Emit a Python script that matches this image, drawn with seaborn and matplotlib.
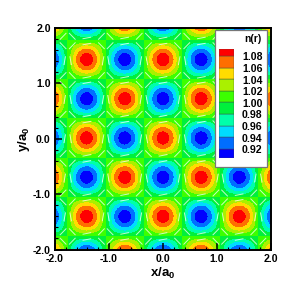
import numpy as np
import seaborn as sns
import matplotlib.pyplot as plt
from matplotlib.colors import ListedColormap, BoundaryNorm
from matplotlib.patches import Rectangle
from matplotlib.ticker import MultipleLocator

row_a = [0.89, 0.915, 1.0, 1.085, 1.11, 1.085, 1.0, 0.915, 0.89, 0.915, 1.0, 1.085, 1.11,
         1.085, 1.0, 0.915, 0.89, 0.915, 1.0, 1.085, 1.11, 1.085, 1.0, 0.915, 0.89]
row_a_near = [0.915, 0.95, 1.0, 1.05, 1.085, 1.05, 1.0, 0.95, 0.915, 0.95, 1.0, 1.05, 1.085,
              1.05, 1.0, 0.95, 0.915, 0.95, 1.0, 1.05, 1.085, 1.05, 1.0, 0.95, 0.915]
row_node = [1.0] * 25
row_b = [1.11, 1.085, 1.0, 0.915, 0.89, 0.915, 1.0, 1.085, 1.11, 1.085, 1.0, 0.915, 0.89,
         0.915, 1.0, 1.085, 1.11, 1.085, 1.0, 0.915, 0.89, 0.915, 1.0, 1.085, 1.11]
row_b_near = [1.085, 1.05, 1.0, 0.95, 0.915, 0.95, 1.0, 1.05, 1.085, 1.05, 1.0, 0.95, 0.915,
              0.95, 1.0, 1.05, 1.085, 1.05, 1.0, 0.95, 0.915, 0.95, 1.0, 1.05, 1.085]
density_rows = [row_b, row_b_near, row_node, row_a_near,
                row_a, row_a_near, row_node, row_b_near,
                row_b, row_b_near, row_node, row_a_near,
                row_a, row_a_near, row_node, row_b_near,
                row_b, row_b_near, row_node, row_a_near,
                row_a, row_a_near, row_node, row_b_near,
                row_b]
grid_edge = 2.121

levels = [0.92, 0.94, 0.96, 0.98, 1.00, 1.02, 1.04, 1.06, 1.08]
level_labels = ['0.92', '0.94', '0.96', '0.98', '1.00', '1.02', '1.04', '1.06', '1.08']
band_colors = ['#0000ff', '#006eff', '#00dcff', '#00ffaa', '#00f03c',
               '#3cff00', '#aaf000', '#ffdc00', '#ff6e00', '#ff0000']

# white strokes: blob centres and the strokes around one blob
site_pos = [-2.12, -1.41, -0.71, 0.0, 0.71, 1.41, 2.12]
ring_x = [0.30, 0.27, 0.0, -0.27, -0.30, -0.27, 0.0, 0.27]
ring_y = [0.0, 0.27, 0.30, 0.27, 0.0, -0.27, -0.30, -0.27]
ring_u = [0.03, 0.12, 0.16, 0.12, -0.03, 0.12, 0.16, 0.12]
ring_v = [0.16, -0.12, 0.03, 0.12, 0.16, -0.12, 0.03, 0.12]

sns.set_theme(style='ticks')
plt.rcParams['font.family'] = ['Liberation Sans', 'DejaVu Sans']
plt.rcParams['font.weight'] = 'bold'
plt.rcParams['mathtext.fontset'] = 'custom'
plt.rcParams['mathtext.bf'] = 'Liberation Sans:bold'

W = 291
palette = sns.color_palette(band_colors)
cmap = ListedColormap(palette)
norm = BoundaryNorm([0.8] + levels + [1.2], cmap.N)


def px_box(x0, y0, x1, y1):
    return [x0 / W, 1 - y1 / W, (x1 - x0) / W, (y1 - y0) / W]


fig = plt.figure(figsize=(2.91, 2.91), dpi=100)
ax = fig.add_axes(px_box(55, 28, 271, 249.5))
step = 2 * grid_edge / 24
ax.imshow(np.array(density_rows), extent=[-grid_edge - step / 2, grid_edge + step / 2,
                                          -grid_edge - step / 2, grid_edge + step / 2],
          cmap=cmap, norm=norm, interpolation='bicubic', interpolation_stage='data', aspect='auto')

sx, sy = np.meshgrid(site_pos, site_pos)
qx = (sx[..., None] + np.array(ring_x)).ravel()
qy = (sy[..., None] + np.array(ring_y)).ravel()
qu = np.tile(ring_u, sx.size)
qv = np.tile(ring_v, sx.size)
ax.quiver(qx, qy, qu, qv, angles='xy', scale_units='xy', scale=1, pivot='mid', color='white',
          width=0.0045, headwidth=1, headlength=0, headaxislength=0, alpha=0.75)

ax.set_xlim(-2, 2)
ax.set_ylim(-2, 2)
ax.xaxis.set_major_locator(MultipleLocator(1))
ax.yaxis.set_major_locator(MultipleLocator(1))
ax.xaxis.set_minor_locator(MultipleLocator(0.2))
ax.yaxis.set_minor_locator(MultipleLocator(0.2))
ax.set_xticks([-2, -1, 0, 1, 2], ['-2.0', '-1.0', '0.0', '1.0', '2.0'])
ax.set_yticks([-2, -1, 0, 1, 2], ['-2.0', '-1.0', '0.0', '1.0', '2.0'])
ax.tick_params(which='major', direction='in', length=5, width=1.1, labelsize=7.6, pad=3, color='black',
               labelcolor='black')
ax.tick_params(which='minor', direction='in', length=2.5, width=0.8, color='black')
for s in ax.spines.values():
    s.set_linewidth(1.4)
    s.set_color('black')
    s.set_visible(True)
for lab in ax.get_xticklabels() + ax.get_yticklabels():
    lab.set_fontweight('bold')
fig.text(163 / W, 1 - 273 / W, r'$\mathbf{x/a_0}$', ha='center', va='center', fontsize=9.5, color='black')
fig.text(24 / W, 1 - 139 / W, r'$\mathbf{y/a_0}$', ha='center', va='center', rotation=90, fontsize=9.5,
         color='black')

# legend box
fig.add_artist(Rectangle((215 / W, 1 - 167 / W), 52 / W, 137 / W, transform=fig.transFigure,
                         facecolor='white', edgecolor='#777777', linewidth=0.9, zorder=1))
cax = fig.add_axes(px_box(219, 49, 234, 158), zorder=2)
band_edges = [0.904] + levels + [1.092]
for lo, hi, c in zip(band_edges[:-1], band_edges[1:], palette):
    cax.barh((lo + hi) / 2, 1, height=hi - lo, color=c, edgecolor='#444444', linewidth=0.3)
cax.set_xlim(0, 1)
cax.set_ylim(band_edges[0], band_edges[-1])
cax.axis('off')
for lev, lab in zip(levels, level_labels):
    y = 158 - (lev - band_edges[0]) / (band_edges[-1] - band_edges[0]) * 109
    fig.text(242 / W, 1 - (y + 1.5) / W, lab, ha='left', va='center', fontsize=7.6, color='black', zorder=3)
fig.text(253 / W, 1 - 39 / W, 'n(r)', ha='center', va='center', fontsize=7.4, color='black', zorder=3)

plt.savefig('out.png', dpi=100)
